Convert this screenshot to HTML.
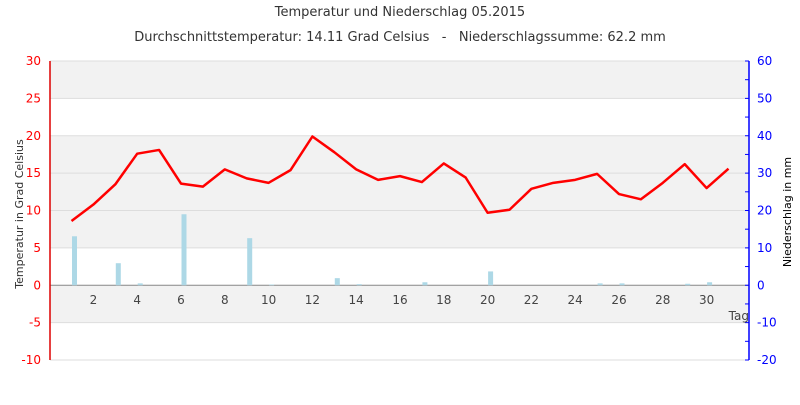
<!DOCTYPE html>
<html><head><meta charset="utf-8"><style>
body{margin:0;background:#fff;}
svg text{font-family:"DejaVu Sans","Liberation Sans",sans-serif;}
</style></head><body>
<svg id="chart" width="800" height="400" xmlns="http://www.w3.org/2000/svg">
<text x="400" y="16" text-anchor="middle" font-size="13" fill="#333">Temperatur und Niederschlag 05.2015</text>
<text x="400" y="41" text-anchor="middle" font-size="13" fill="#333" style="white-space:pre">Durchschnittstemperatur: 14.11 Grad Celsius   -   Niederschlagssumme: 62.2 mm</text>
<g id="bands"></g><g id="grid"></g><g id="bars"></g><g id="line"></g><g id="axes"></g>
<text transform="translate(23,214) rotate(-90)" text-anchor="middle" font-size="11" fill="#333">Temperatur in Grad Celsius</text>
<text transform="translate(791,212) rotate(-90)" text-anchor="middle" font-size="11" fill="#000">Niederschlag in mm</text>
<text x="749" y="320" text-anchor="end" font-size="12" fill="#444">Tag</text>
</svg>
<script>
const days=[1,2,3,4,5,6,7,8,9,10,11,12,13,14,15,16,17,18,19,20,21,22,23,24,25,26,27,28,29,30,31];
const temps=[8.6,10.8,13.5,17.6,18.1,13.6,13.2,15.5,14.3,13.7,15.4,19.9,17.8,15.5,14.1,14.6,13.8,16.3,14.4,9.7,10.1,12.9,13.7,14.1,14.9,12.2,11.5,13.7,16.2,13.0,15.6];
const precip=[13.1,0,5.9,0.5,0,19,0,0,12.6,0.2,0,0,1.9,0.3,0,0,0.8,0,0,3.7,0,0,0,0,0.5,0.5,0,0,0.4,0.8,0];
const leftTicks=[30,25,20,15,10,5,0,-5,-10];
const rightTicks=[60,50,40,30,20,10,0,-10,-20];
const xTicks=[2,4,6,8,10,12,14,16,18,20,22,24,26,28,30];
const NS="http://www.w3.org/2000/svg";
const X0=50,X1=749,YT=61,YB=360;
const x=d=>71.5+(d-1)*21.9;
const yL=v=>YT+(30-v)*(YB-YT)/40;
const yR=v=>YT+(60-v)*(YB-YT)/80;
function mk(tag,parent,attrs){const e=document.createElementNS(NS,tag);for(const k in attrs)e.setAttribute(k,attrs[k]);document.getElementById(parent).appendChild(e);return e;}
[[30,25],[20,5],[0,-5]].forEach(b=>{const r=mk('rect','bands',{x:X0,y:yL(b[0]),width:X1-X0,height:yL(b[1])-yL(b[0]),fill:'#f2f2f2'});

});
leftTicks.forEach(t=>{const l=mk('line','grid',{x1:X0,x2:X1,y1:yL(t),y2:yL(t),stroke:t===0?'#888':'#ddd','stroke-width':1});


const tx=mk('text','axes',{x:41,y:yL(t)+4,'text-anchor':'end','font-size':12,fill:'#f00'});tx.textContent=t;

});
rightTicks.forEach(t=>{const tx=mk('text','axes',{x:757,y:yR(t)+4,'font-size':12,fill:'#00f'});tx.textContent=t;

});
for(let v=-20;v<=60;v+=5){const tk=mk('line','axes',{x1:745,x2:749,y1:yR(v),y2:yR(v),stroke:'#00f'});

}
const la=mk('line','axes',{x1:X0,x2:X0,y1:YT,y2:YB,stroke:'#d00','stroke-width':1.5});


const ra=mk('line','axes',{x1:X1,x2:X1,y1:YT,y2:YB,stroke:'#00f','stroke-width':1.5});


xTicks.forEach(t=>{const tx=mk('text','axes',{x:x(t),y:304,'text-anchor':'middle','font-size':12,fill:'#444'});tx.textContent=t;

});
precip.forEach((p,i)=>{if(p<=0)return;const b=mk('rect','bars',{x:x(days[i])+0.5,y:yR(p),width:5,height:yR(0)-yR(p),fill:'#add8e6'});

});
const pl=mk('polyline','line',{points:temps.map((t,i)=>x(days[i])+','+yL(t)).join(' '),fill:'none',stroke:'#f00','stroke-width':2.5,'stroke-linejoin':'round'});


</script>
</body></html>
